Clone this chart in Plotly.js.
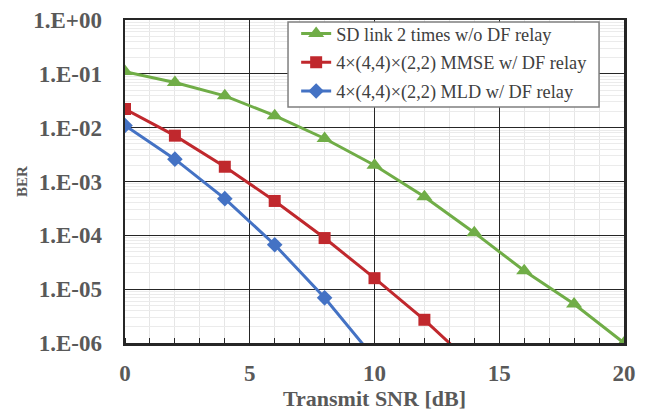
<!DOCTYPE html>
<html>
<head>
<meta charset="utf-8">
<script src="https://cdn.plot.ly/plotly-3.0.1.min.js"></script>
<style>html,body{margin:0;padding:0;background:#fff;}#chart{width:649px;height:415px;}</style>
</head>
<body>
<div id="chart"></div>
<script>
const snr = [0, 2, 4, 6, 8, 10, 12, 14, 16, 18, 20];
const berSD = [0.11, 0.069, 0.039, 0.0167, 0.0063, 0.0020, 5.2e-4, 1.12e-4, 2.2e-5, 5.3e-6, 1.0e-6];
const snrMMSE = [0, 2, 4, 6, 8, 10, 12, 14];
const berMMSE = [0.0222, 0.0071, 0.00188, 4.35e-4, 8.9e-5, 1.6e-5, 2.7e-6, 3.7e-7];
const snrMLD = [0, 2, 4, 6, 8, 10];
const berMLD = [0.011, 0.0026, 4.8e-4, 6.7e-5, 6.9e-6, 5.2e-7];
const names = ["SD link 2 times w/o DF relay", "4×(4,4)×(2,2) MMSE w/ DF relay", "4×(4,4)×(2,2) MLD w/ DF relay"];
const yTickVals = [1, 1e-1, 1e-2, 1e-3, 1e-4, 1e-5, 1e-6];
const yTickText = ["1.E+00", "1.E-01", "1.E-02", "1.E-03", "1.E-04", "1.E-05", "1.E-06"];
const xTickVals = [0, 5, 10, 15, 20];

const yMinor = [];
for (let e = -6; e < 0; e++) for (let m = 2; m <= 9; m++) yMinor.push(m * Math.pow(10, e));

const tickFont = {family: "Liberation Serif", size: 23, color: "#595959", weight: "bold"};

const traces = [
  {x: snr, y: berSD, name: names[0], mode: "lines+markers", legendgroup: "a",
   line: {color: "#70AD47", width: 3}, marker: {symbol: "triangle-up", size: 14, color: "#70AD47"}},
  {x: snrMMSE, y: berMMSE, name: names[1], mode: "lines+markers", legendgroup: "b",
   line: {color: "#C0282D", width: 3}, marker: {symbol: "square", size: 12, color: "#C0282D"}},
  {x: snrMLD, y: berMLD, name: names[2], mode: "lines+markers", legendgroup: "c",
   line: {color: "#4472C4", width: 3}, marker: {symbol: "diamond", size: 12, color: "#4472C4"}}
];

const layout = {
  width: 649, height: 415,
  margin: {l: 125, r: 25, t: 20, b: 72},
  paper_bgcolor: "#fff", plot_bgcolor: "#fff",
  showlegend: true,
  legend: {x: 0.343, y: 1.0155, xanchor: "left", yanchor: "top",
           bgcolor: "rgba(0,0,0,0)", borderwidth: 0,
           font: {family: "Liberation Serif", size: 18.3, color: "#404040"},
           tracegroupgap: 2},
  shapes: [{type: "rect", xref: "paper", yref: "paper", x0: 0.3267, x1: 0.95, y0: 0.7307, y1: 0.9938,
            fillcolor: "#fff", line: {color: "#7f7f7f", width: 1.5}, layer: "above"}],
  xaxis: {
    range: [0, 20], tickvals: xTickVals, ticktext: xTickVals.map(String),
    showgrid: true, gridcolor: "#262626", gridwidth: 1.3,
    showline: true, linecolor: "#262626", linewidth: 2.5, mirror: true,
    ticks: "", tickfont: tickFont, ticklabelstandoff: 8,
    minor: {dtick: 1, showgrid: true, gridcolor: "#e6e6e6", gridwidth: 1, ticks: "inside", ticklen: 5, tickcolor: "#262626"},
    zeroline: false,
    title: {text: "Transmit SNR [dB]", font: {family: "Liberation Serif", size: 22, color: "#595959", weight: "bold"}, standoff: 2}
  },
  yaxis: {
    type: "log", range: [-6, 0], tickvals: yTickVals, ticktext: yTickText,
    showgrid: true, gridcolor: "#262626", gridwidth: 1.3,
    showline: true, linecolor: "#262626", linewidth: 2.5, mirror: true,
    ticks: "", tickfont: tickFont, ticklabelstandoff: 16,
    minor: {tickvals: yMinor, showgrid: true, gridcolor: "#ebebeb", gridwidth: 1, ticks: ""},
    zeroline: false,
    title: {text: "BER", font: {family: "Liberation Serif", size: 15, color: "#595959", weight: "bold"}, standoff: 2}
  }
};

Plotly.newPlot("chart", traces, layout, {displayModeBar: false, staticPlot: true});
</script>
</body>
</html>
